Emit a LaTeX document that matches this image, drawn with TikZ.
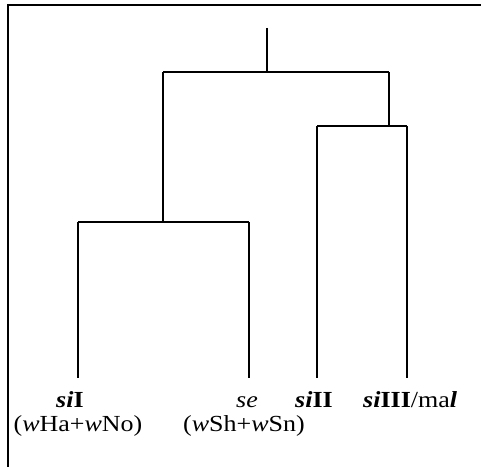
\documentclass[tikz,border=0pt]{standalone}
\usepackage{fontspec}
\setmainfont[FakeStretch=1.13]{Liberation Serif}
\begin{document}
\begin{tikzpicture}[x=1bp,y=-1bp,
  tree/.style={line width=2.6bp},
  frame/.style={line width=2.6bp},
  lab/.style={inner sep=0pt,font=\fontsize{23bp}{26bp}\selectfont,anchor=base}]
\useasboundingbox (0,0) rectangle (481,467);
% frame (top and left sides visible)
\draw[frame] (8,467) -- (8,5) -- (481,5);
% internal points
\coordinate (root) at (267,28);
\coordinate (n0) at (267,72);
\coordinate (nL) at (163,72);
\coordinate (nR) at (389,72);
\coordinate (nLb) at (163,222);
\coordinate (nRb) at (389,126);
\coordinate (a) at (78,222);
\coordinate (b) at (249,222);
\coordinate (c) at (317,126);
\coordinate (d) at (407,126);
\coordinate (a1) at (78,378);
\coordinate (b1) at (249,378);
\coordinate (c1) at (317,378);
\coordinate (d1) at (407,378);
\draw[tree] (root) -- (n0);
\draw[tree] (nL) -- (nR);
\draw[tree] (nL) -- (nLb);
\draw[tree] (nR) -- (nRb);
\draw[tree] (a) -- (b);
\draw[tree] (c) -- (d);
\draw[tree] (a) -- (a1);
\draw[tree] (b) -- (b1);
\draw[tree] (c) -- (c1);
\draw[tree] (d) -- (d1);
% labels
\node[lab,anchor=base west] (la) at (56,407) {\textbf{\textit{si}I}};
\node[lab] (la2) at (78,431) {(\textit{w}Ha+\textit{w}No)};
\node[lab,anchor=base east] (lb) at (258,407) {\textit{se}};
\node[lab] (lb2) at (244,431) {(\textit{w}Sh+\textit{w}Sn)};
\node[lab,anchor=base west] (lc) at (295,407) {\textbf{\textit{si}II}};
\node[lab,anchor=base west] (ld) at (363,407) {\textbf{\textit{si}III}/ma\textbf{\textit{l}}};
\end{tikzpicture}
\end{document}
